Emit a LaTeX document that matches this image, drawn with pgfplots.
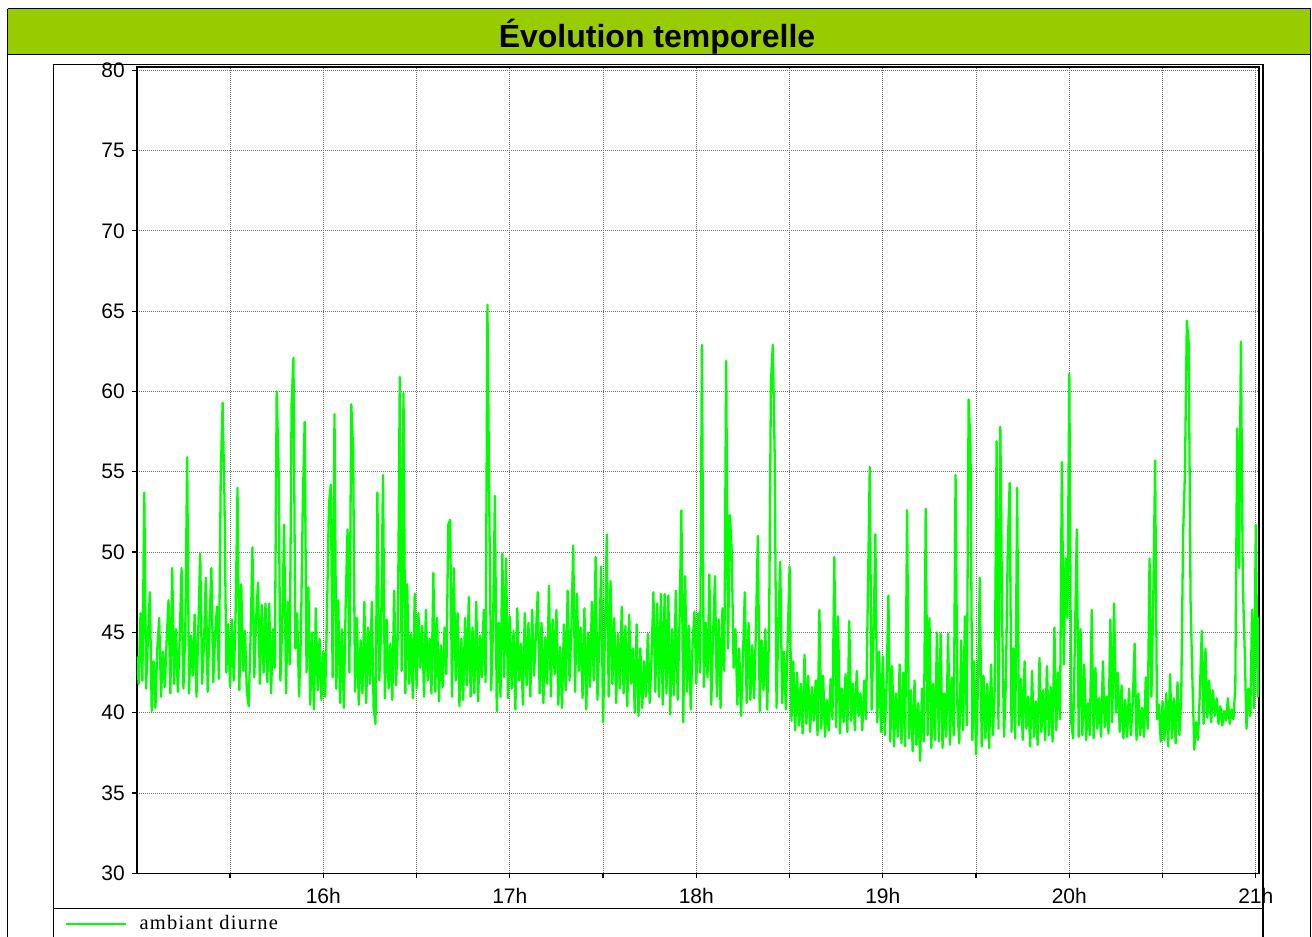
\documentclass[border=0pt]{standalone}
\usepackage{pgfplots}
\pgfplotsset{compat=1.18}
\usepackage{fontspec}
\setmainfont{Liberation Sans}
\newfontfamily\legfont[LetterSpace=6]{Liberation Serif}
\definecolor{titlegreen}{RGB}{153,204,0}
\definecolor{linegreen}{RGB}{0,255,0}
\begin{document}
\begin{tikzpicture}[x=0.5pt,y=-0.5pt]
\useasboundingbox (0,0) rectangle (1312,937);
% outer frame and title bar
\fill[titlegreen] (8,9) rectangle (1310,54.5);
\draw[line width=0.8pt] (7.5,8.5) -- (1310.5,8.5) -- (1310.5,980);
\draw[line width=0.8pt] (7.5,8.5) -- (7.5,980);
\draw[line width=0.8pt] (7.5,54.5) -- (1310.5,54.5);
\node[anchor=base,font=\bfseries\fontsize{16}{19}\selectfont] at (657,47) {Évolution temporelle};
% inner box
\draw[line width=0.5pt] (53.5,64) -- (1262.5,64) -- (1262.5,980);
\draw[line width=0.5pt] (53.5,64) -- (53.5,980);
\draw[line width=0.8pt] (1263.5,64) -- (1263.5,980);
\draw[line width=0.7pt] (53.5,908.5) -- (1262.5,908.5);
\begin{axis}[
  at={(68.4pt,-436.65pt)}, anchor=south west,
  width=561.1pt, height=403.15pt, scale only axis,
  xmin=0, xmax=601.7, ymin=30, ymax=80.2,
  xtick={50,100,...,600},
  xticklabels={,16h,,17h,,18h,,19h,,20h,,21h},
  ytick={30,35,...,80},
  grid=major,
  major grid style={black!55, dash pattern=on 0.5pt off 0.5pt, line width=0.5pt},
  tick align=outside, major tick length=2.5pt,
  xtick pos=bottom, ytick pos=left,
  tick style={black, line width=0.6pt},
  axis line style={black, line width=0.8pt},
  ticklabel style={font=\fontsize{10.5}{12}\selectfont},
  xticklabel style={yshift=-1.5pt},
  /pgf/number format/assume math mode=true,
  legend style={at={(-0.0640,-0.0629)}, anchor=west, draw=none, fill=none,
    font=\legfont\fontsize{10.25}{12}\selectfont, inner sep=0pt,
    /tikz/every odd column/.append style={column sep=4.5pt}},
  legend cell align=left,
  legend image code/.code={\draw[#1, line width=0.6pt] (0pt,0pt) -- (30pt,0pt);},
]
\addplot[linegreen, line width=1.15pt, line join=round] coordinates {
(0,43.5)(1,41.8)(2,46.2)(3,42.0)(4,53.7)(5,41.5)(6,44.8)(7,47.5)(8,40.1)(9,43.2)
(10,40.3)(11,44.0)(12,45.9)(13,41.0)(14,43.8)(15,41.6)(16,44.5)(17,47.0)(18,41.2)(19,49.0)
(20,41.8)(21,45.2)(22,41.3)(23,44.6)(24,49.0)(25,41.5)(26,45.0)(27,55.9)(28,41.2)(29,44.8)
(30,42.3)(31,46.1)(32,41.0)(33,45.3)(34,49.9)(35,41.8)(36,44.2)(37,48.4)(38,41.3)(39,45.6)
(40,49.0)(41,41.9)(42,44.9)(43,46.6)(44,42.1)(45,54.7)(46,59.3)(47,53.4)(48,42.5)(49,45.5)
(50,41.6)(51,45.8)(52,42.0)(53,46.3)(54,54.0)(55,41.4)(56,48.0)(57,42.6)(58,45.1)(59,41.3)
(60,40.4)(61,44.7)(62,50.3)(63,42.2)(64,45.9)(65,48.1)(66,41.8)(67,46.7)(68,42.5)(69,46.8)
(70,41.9)(71,46.8)(72,41.2)(73,45.2)(74,42.8)(75,60.0)(76,55.4)(77,42.0)(78,45.6)(79,51.7)
(80,41.2)(81,46.9)(82,43.0)(83,59.2)(84,62.1)(85,44.0)(86,46.2)(87,41.0)(88,44.8)(89,53.0)
(90,58.1)(91,42.5)(92,47.8)(93,40.5)(94,45.0)(95,40.2)(96,46.5)(97,41.4)(98,44.6)(99,40.8)
(100,43.8)(101,41.0)(102,46.3)(103,52.9)(104,54.2)(105,42.2)(106,58.6)(107,41.5)(108,47.0)(109,40.6)
(110,45.2)(111,40.3)(112,46.8)(113,51.4)(114,42.5)(115,59.2)(116,56.3)(117,41.3)(118,45.9)(119,40.5)
(120,44.5)(121,41.2)(122,46.9)(123,40.6)(124,45.3)(125,41.8)(126,46.9)(127,40.2)(128,39.3)(129,53.7)
(130,42.0)(131,45.1)(132,54.8)(133,40.9)(134,45.8)(135,41.5)(136,44.3)(137,40.8)(138,47.6)(139,41.7)
(140,45.0)(141,60.9)(142,42.6)(143,59.9)(144,41.2)(145,48.0)(146,41.8)(147,44.9)(148,40.9)(149,47.4)
(150,41.5)(151,46.2)(152,42.8)(153,45.4)(154,41.0)(155,46.4)(156,42.0)(157,44.6)(158,41.2)(159,48.7)
(160,41.3)(161,45.9)(162,40.7)(163,44.2)(164,41.6)(165,45.3)(166,42.4)(167,51.7)(168,52.0)(169,41.0)
(170,49.0)(171,42.0)(172,46.2)(173,40.4)(174,44.6)(175,40.8)(176,45.9)(177,41.7)(178,47.2)(179,41.0)
(180,45.3)(181,41.2)(182,46.9)(183,40.7)(184,44.8)(185,42.2)(186,46.4)(187,41.9)(188,65.4)(189,52.8)
(190,41.4)(191,45.2)(192,53.5)(193,40.1)(194,45.6)(195,41.0)(196,49.9)(197,42.2)(198,49.6)(199,40.9)
(200,46.0)(201,41.5)(202,45.1)(203,40.2)(204,46.5)(205,42.0)(206,44.3)(207,40.5)(208,46.2)(209,41.7)
(210,45.6)(211,41.0)(212,46.4)(213,42.3)(214,44.9)(215,47.5)(216,41.2)(217,45.6)(218,40.6)(219,44.7)
(220,41.8)(221,47.9)(222,41.0)(223,45.8)(224,42.4)(225,46.4)(226,40.5)(227,44.1)(228,40.3)(229,45.5)
(230,41.4)(231,47.6)(232,42.0)(233,45.2)(234,50.4)(235,41.3)(236,47.4)(237,42.6)(238,45.3)(239,40.9)
(240,46.5)(241,40.2)(242,45.0)(243,41.6)(244,46.9)(245,42.0)(246,49.7)(247,40.8)(248,44.6)(249,49.1)
(250,39.4)(251,44.8)(252,51.1)(253,41.0)(254,48.2)(255,41.8)(256,45.9)(257,40.6)(258,44.9)(259,41.5)
(260,46.6)(261,41.2)(262,45.4)(263,40.4)(264,46.1)(265,41.8)(266,44.0)(267,40.0)(268,45.5)(269,39.8)
(270,44.0)(271,40.3)(272,43.2)(273,41.0)(274,44.9)(275,40.6)(276,43.5)(277,47.5)(278,41.3)(279,46.8)
(280,41.0)(281,47.4)(282,40.5)(283,47.4)(284,41.2)(285,47.3)(286,39.9)(287,45.2)(288,41.1)(289,47.6)
(290,40.8)(291,45.7)(292,52.6)(293,39.4)(294,48.5)(295,41.3)(296,45.4)(297,40.2)(298,44.3)(299,46.3)
(300,41.8)(301,46.2)(302,42.5)(303,62.9)(304,41.6)(305,45.6)(306,42.2)(307,48.6)(308,40.5)(309,44.8)
(310,48.5)(311,41.0)(312,45.8)(313,40.3)(314,46.5)(315,42.6)(316,61.9)(317,44.0)(318,52.3)(319,50.0)
(320,42.8)(321,45.2)(322,40.5)(323,44.0)(324,39.8)(325,43.5)(326,47.5)(327,40.6)(328,45.6)(329,40.8)
(330,44.2)(331,40.9)(332,45.4)(333,51.0)(334,40.1)(335,44.5)(336,41.4)(337,45.2)(338,40.2)(339,44.9)
(340,60.5)(341,62.9)(342,56.2)(343,40.3)(344,45.4)(345,49.4)(346,40.6)(347,43.8)(348,40.2)(349,44.6)
(350,49.1)(351,39.5)(352,43.2)(353,38.9)(354,42.5)(355,39.2)(356,41.8)(357,38.7)(358,43.6)(359,39.3)
(360,42.3)(361,38.8)(362,41.6)(363,39.5)(364,42.0)(365,38.6)(366,46.4)(367,39.0)(368,42.3)(369,38.5)
(370,40.8)(371,38.9)(372,42.1)(373,39.6)(374,49.7)(375,39.1)(376,46.0)(377,38.7)(378,41.5)(379,39.4)
(380,42.4)(381,38.8)(382,45.7)(383,39.5)(384,41.8)(385,38.9)(386,42.6)(387,39.8)(388,41.2)(389,38.9)
(390,42.0)(391,39.6)(392,47.5)(393,55.3)(394,40.2)(395,44.8)(396,51.1)(397,39.4)(398,43.8)(399,38.8)
(400,43.5)(401,38.6)(402,41.7)(403,47.3)(404,38.2)(405,42.9)(406,37.9)(407,41.2)(408,38.5)(409,43.0)
(410,38.1)(411,42.5)(412,37.9)(413,52.6)(414,38.4)(415,41.4)(416,37.6)(417,42.0)(418,38.0)(419,40.6)
(420,37.0)(421,41.5)(422,38.2)(423,52.7)(424,38.6)(425,45.9)(426,37.8)(427,41.8)(428,38.3)(429,45.0)
(430,38.2)(431,44.9)(432,37.8)(433,41.2)(434,38.5)(435,44.9)(436,38.0)(437,42.2)(438,38.6)(439,54.8)
(440,40.2)(441,38.1)(442,44.5)(443,38.9)(444,46.0)(445,39.2)(446,59.5)(447,56.6)(448,38.3)(449,43.2)
(450,37.4)(451,41.6)(452,48.4)(453,37.9)(454,42.3)(455,38.4)(456,41.8)(457,37.8)(458,43.0)(459,38.6)
(460,41.5)(461,56.9)(462,39.0)(463,57.8)(464,45.5)(465,38.5)(466,42.0)(467,50.4)(468,54.3)(469,38.8)
(470,44.0)(471,38.4)(472,54.0)(473,39.2)(474,42.1)(475,38.3)(476,43.2)(477,39.0)(478,41.0)(479,37.9)
(480,42.6)(481,38.5)(482,40.7)(483,38.0)(484,43.4)(485,38.8)(486,41.4)(487,38.3)(488,42.9)(489,38.6)
(490,41.6)(491,38.2)(492,45.3)(493,38.9)(494,42.5)(495,39.6)(496,55.6)(497,43.0)(498,49.6)(499,45.9)
(500,61.1)(501,39.4)(502,38.4)(503,44.6)(504,51.4)(505,38.5)(506,45.2)(507,38.6)(508,43.0)(509,38.3)
(510,40.6)(511,38.6)(512,46.4)(513,38.4)(514,42.8)(515,39.0)(516,40.9)(517,38.5)(518,43.2)(519,39.1)
(520,41.0)(521,38.7)(522,45.8)(523,39.4)(524,46.8)(525,40.0)(526,42.5)(527,38.8)(528,41.7)(529,38.4)
(530,40.8)(531,38.5)(532,41.5)(533,38.6)(534,40.6)(535,44.3)(536,38.3)(537,41.2)(538,38.6)(539,40.3)
(540,38.5)(541,42.2)(542,39.0)(543,49.6)(544,41.0)(545,47.0)(546,55.7)(547,39.6)(548,40.5)(549,38.2)
(550,40.7)(551,38.3)(552,41.2)(553,37.9)(554,42.4)(555,38.4)(556,40.9)(557,38.1)(558,41.9)(559,38.6)
(560,41.0)(561,51.1)(562,55.0)(563,64.4)(564,63.0)(565,47.0)(566,42.0)(567,37.7)(568,39.4)(569,38.3)
(570,41.3)(571,45.1)(572,39.3)(573,44.0)(574,39.7)(575,42.0)(576,39.4)(577,41.4)(578,39.8)(579,40.9)
(580,39.3)(581,40.4)(582,39.2)(583,40.1)(584,39.5)(585,40.9)(586,39.3)(587,40.2)(588,39.6)(589,41.7)
(590,57.7)(591,49.0)(592,63.1)(593,48.2)(594,44.0)(595,39.0)(596,41.5)(597,39.8)(598,46.4)(599,40.3)
(600,51.7)(601,41.0)(602,46.0)
};
\addlegendentry{ambiant diurne}
\end{axis}
\end{tikzpicture}
\end{document}
